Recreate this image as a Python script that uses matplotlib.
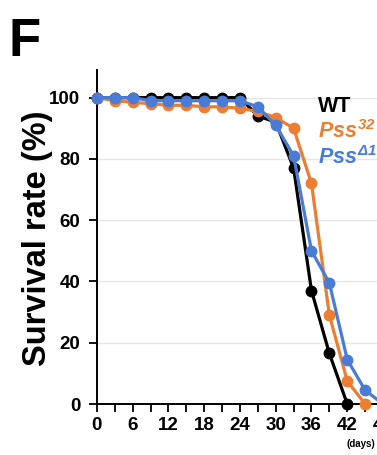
import matplotlib.pyplot as plt
import numpy as np

plt.rcParams['font.family'] = ['Liberation Sans', 'DejaVu Sans']
plt.rcParams['mathtext.fontset'] = 'custom'
plt.rcParams['mathtext.it'] = 'Liberation Sans:bold:italic'
plt.rcParams['mathtext.rm'] = 'Liberation Sans:bold:italic'
plt.rcParams['mathtext.bf'] = 'Liberation Sans:bold:italic'

# survival (%), every 3 days
days_wt = [0, 3, 6, 9, 12, 15, 18, 21, 24, 27, 30, 33, 36, 39, 42]
surv_wt = [100, 100, 100, 100, 100, 100, 100, 100, 100, 94, 92, 77, 37, 16.5, 0]

days_32 = [0, 3, 6, 9, 12, 15, 18, 21, 24, 27, 30, 33, 36, 39, 42, 45]
surv_32 = [100, 99, 98.5, 98, 97.5, 97.5, 97, 97, 96.5, 95.5, 93.5, 90, 72, 29, 7.5, 0]

days_d1 = [0, 3, 6, 9, 12, 15, 18, 21, 24, 27, 30, 33, 36, 39, 42, 45, 48]
surv_d1 = [100, 100, 100, 99, 99, 99, 99, 99, 99, 97, 91, 81, 50, 39.5, 14.5, 4.5, 0]

labels = ['WT', '$Pss^{32}$', '$Pss^{\\Delta 1}$']
colors = ['black', '#ED7D31', '#4A7BD6']

fig = plt.figure(figsize=(3.77, 4.55), dpi=100)
ax = fig.add_axes([0.257, 0.112, 0.759, 0.734])

ax.plot(days_wt, surv_wt, '-o', color=colors[0], lw=2.3, ms=7.5, clip_on=False, zorder=3)
ax.plot(days_32, surv_32, '-o', color=colors[1], lw=2.3, ms=7.5, clip_on=False, zorder=4)
ax.plot(days_d1, surv_d1, '-o', color=colors[2], lw=2.3, ms=7.5, clip_on=False, zorder=5)

ax.set_xlim(0, 48)
ax.set_ylim(0, 109)
ax.set_xticks(np.arange(0, 49, 6))
ax.set_xticks(np.arange(0, 49, 3), minor=True)
ax.set_yticks(np.arange(0, 101, 20))
ax.tick_params(axis='both', which='both', direction='out', width=1.3, length=6,
               labelsize=13.5)
ax.tick_params(axis='x', pad=3)
ax.tick_params(axis='y', pad=6)
for lab in ax.get_xticklabels() + ax.get_yticklabels():
    lab.set_fontweight('bold')
ax.grid(axis='y', color='#e6e6e6', lw=1)
ax.set_axisbelow(True)
for s in ['top', 'right']:
    ax.spines[s].set_visible(False)
for s in ['left', 'bottom']:
    ax.spines[s].set_linewidth(1.4)

ax.set_ylabel('Survival rate (%)', fontsize=23.5, fontweight='bold')
ax.yaxis.set_label_coords(-0.152, 0.497)

ys = [0.765, 0.710, 0.653]
for lab, c, y in zip(labels, colors, ys):
    fig.text(0.843, y, lab, color=c, fontsize=15.5, fontweight='bold', va='center')

fig.text(0.918, 0.018, '(days)', fontsize=7, fontweight='bold')
fig.text(0.022, 0.878, 'F', fontsize=38, fontweight='bold')

fig.savefig('out.png', dpi=100)
